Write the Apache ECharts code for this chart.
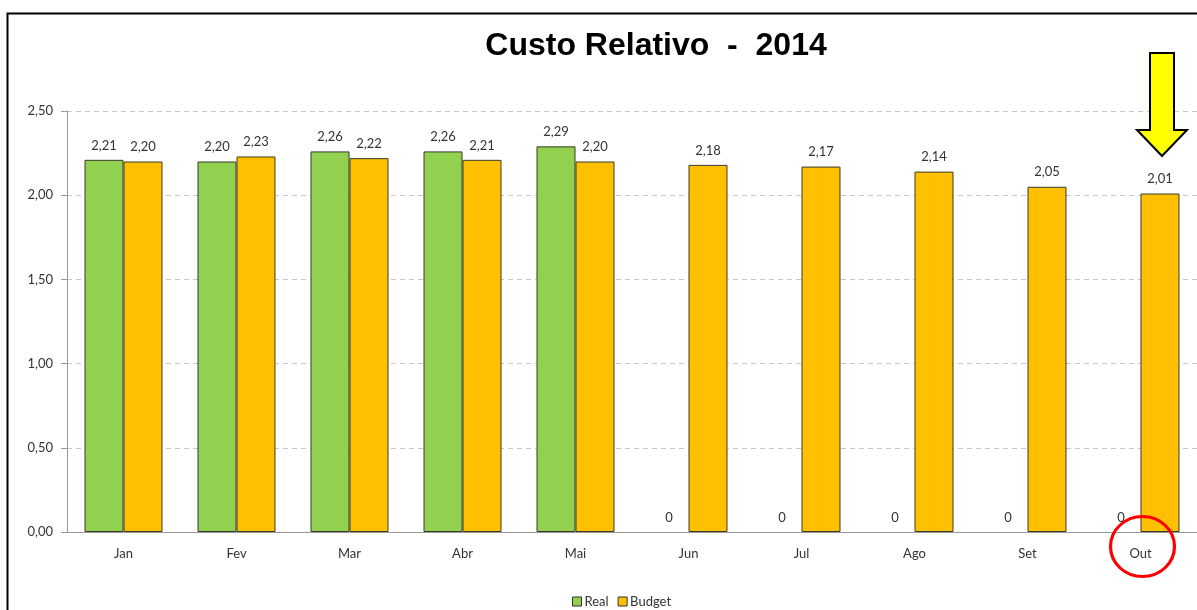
<!DOCTYPE html>
<html>
<head>
<meta charset="utf-8">
<script src="https://cdn.jsdelivr.net/npm/echarts@6/dist/echarts.min.js"></script>
<style>html,body{margin:0;padding:0;background:#fff}#c{width:1197px;height:610px}</style>
</head>
<body>
<div id="c"></div>
<script>
const categories = ['Jan','Fev','Mar','Abr','Mai','Jun','Jul','Ago','Set','Out'];
const realValues = [2.21, 2.20, 2.26, 2.26, 2.29, 0, 0, 0, 0, 0];
const budgetValues = [2.20, 2.23, 2.22, 2.21, 2.20, 2.18, 2.17, 2.14, 2.05, 2.01];
const yTicks = { min: 0, max: 2.5, interval: 0.5 };

const fmt = v => v === 0 ? '0' : v.toFixed(2).replace('.', ',');
const font = 'Lato, "Open Sans", sans-serif';
const toItems = arr => arr.map(v => v === 0 ? { value: v, itemStyle: { borderWidth: 0 } } : v);

const chart = echarts.init(document.getElementById('c'));
chart.setOption({
  animation: false,
  title: {
    text: 'Custo Relativo  -  2014',
    left: 651, textAlign: 'center', top: 25,
    textStyle: { fontFamily: '"Liberation Sans", Arial, sans-serif', fontSize: 32, fontWeight: 'bold', color: '#000' }
  },
  legend: {
    bottom: -3,
    left: 567,
    itemWidth: 9, itemHeight: 9, itemGap: 9,
    icon: 'rect',
    itemStyle: { borderColor: '#333', borderWidth: 1 },
    textStyle: { fontFamily: font, fontSize: 13, color: '#333', padding: [0, 0, 0, -2] },
    data: ['Real', 'Budget']
  },
  grid: { left: 67, top: 111, bottom: 78, width: 1132 },
  xAxis: {
    type: 'category',
    data: categories,
    axisLine: { lineStyle: { color: '#999', width: 1 } },
    axisTick: { length: 5, lineStyle: { color: '#999' } },
    axisLabel: { fontFamily: font, fontSize: 13, color: '#333', margin: 15 }
  },
  yAxis: {
    type: 'value',
    min: yTicks.min, max: yTicks.max, interval: yTicks.interval,
    axisLine: { show: true, lineStyle: { color: '#999' } },
    axisTick: { show: true, length: 6, lineStyle: { color: '#999' } },
    axisLabel: { fontFamily: font, fontSize: 13, color: '#333', margin: 14, formatter: v => v.toFixed(2).replace('.', ',') },
    splitLine: { lineStyle: { color: '#c8c8c8', type: [5, 4] } }
  },
  series: [
    {
      name: 'Real', type: 'bar', data: toItems(realValues),
      barGap: '0%', barCategoryGap: '31%',
      itemStyle: { color: '#92D050', borderColor: '#3a3a2a', borderWidth: 1 },
      label: { show: true, position: 'top', distance: 8, fontFamily: font, fontSize: 13, color: '#333', formatter: p => fmt(p.value) }
    },
    {
      name: 'Budget', type: 'bar', data: toItems(budgetValues),
      itemStyle: { color: '#FFC000', borderColor: '#3a3a2a', borderWidth: 1 },
      label: { show: true, position: 'top', distance: 8, fontFamily: font, fontSize: 13, color: '#333', formatter: p => fmt(p.value) }
    }
  ],
  graphic: [
    { type: 'rect', shape: { x: 7.5, y: 13.5, width: 1200, height: 620 }, style: { fill: 'none', stroke: '#000', lineWidth: 2 }, z: 100 },
    { type: 'polygon', shape: { points: [[1150,53],[1174,53],[1174,130],[1187,130],[1162,156],[1137,130],[1150,130]] },
      style: { fill: '#FFFF00', stroke: '#000', lineWidth: 2 }, z: 100 },
    { type: 'circle', shape: { cx: 0, cy: 0, r: 30 }, x: 1142.5, y: 546.5, scaleX: 32/30,
      style: { fill: 'none', stroke: '#FF0000', lineWidth: 3 }, z: 100 }
  ]
});
</script>
</body>
</html>
